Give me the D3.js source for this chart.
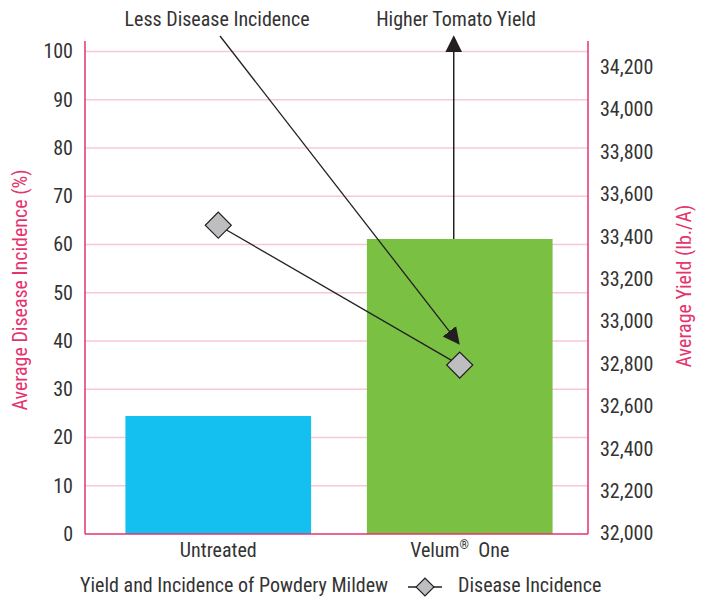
<!DOCTYPE html>
<html>
<head>
<meta charset="utf-8">
<script src="https://cdn.jsdelivr.net/npm/d3@7"></script>
<style>
  body { margin: 0; background: #fff; }
  svg text { font-family: "Liberation Sans Narrow", "Roboto Condensed", "Roboto", sans-serif; fill: #333; }
</style>
</head>
<body>
<svg id="chart" width="708" height="599"></svg>
<script>
// data
const categories = ["Untreated", "Velum One"];
const yieldValues = [32554, 33389];       // lb./A, right axis
const incidenceValues = [64, 35];         // %, left axis
const barColors = ["#13c0ef", "#7ac143"];
const leftTicks = [0, 10, 20, 30, 40, 50, 60, 70, 80, 90, 100];
const rightTicks = [32000, 32200, 32400, 32600, 32800, 33000, 33200, 33400, 33600, 33800, 34000, 34200];

const pink = "#e5336e";
const gridPink = "#f7c8d9";
const dark = "#231f20";

const plotL = 85, plotR = 588, plotT = 41, plotB = 534;

const svg = d3.select("#chart");

const x = d3.scaleBand().domain(categories).range([88, 590]).paddingInner(0.231).paddingOuter(0.155);
const yL = d3.scaleLinear().domain([0, 100]).range([plotB, 51.5]);
const yR = d3.scaleLinear().domain([32000, 34200]).range([533.5, 67]);

// gridlines
svg.append("g").selectAll("line")
    .data(leftTicks.filter(d => d > 0))
    .enter().append("line")
    .attr("x1", plotL).attr("x2", plotR)
    .attr("y1", d => yL(d)).attr("y2", d => yL(d))
    .attr("stroke", gridPink).attr("stroke-width", 1.5);

// bars
svg.append("g").selectAll("rect")
    .data(categories)
    .enter().append("rect")
    .attr("x", d => x(d))
    .attr("width", x.bandwidth())
    .attr("y", (d, i) => yR(yieldValues[i]))
    .attr("height", (d, i) => plotB - yR(yieldValues[i]))
    .attr("fill", (d, i) => barColors[i]);

// axis lines
svg.append("line").attr("x1", plotL).attr("x2", plotL).attr("y1", plotT).attr("y2", plotB)
    .attr("stroke", pink).attr("stroke-width", 1.5);
svg.append("line").attr("x1", plotR).attr("x2", plotR).attr("y1", plotT).attr("y2", plotB)
    .attr("stroke", pink).attr("stroke-width", 1.5);
svg.append("line").attr("x1", plotL).attr("x2", plotR).attr("y1", plotB).attr("y2", plotB)
    .attr("stroke", pink).attr("stroke-width", 1.5);

// left axis
const axL = svg.append("g").attr("transform", `translate(${plotL},0)`)
    .call(d3.axisLeft(yL).tickValues(leftTicks).tickSize(0).tickPadding(12));
axL.select(".domain").remove();
axL.selectAll("text").attr("font-size", 20).attr("fill", "#333").style("font-family", null);

// right axis
const axR = svg.append("g").attr("transform", `translate(${plotR},0)`)
    .call(d3.axisRight(yR).tickValues(rightTicks).tickSize(0).tickPadding(12).tickFormat(d3.format(",")));
axR.select(".domain").remove();
axR.selectAll("text").attr("font-size", 20).attr("fill", "#333").style("font-family", null);

// category labels
const catLabels = svg.append("g").selectAll("text")
    .data(categories)
    .enter().append("text")
    .attr("x", d => x(d) + x.bandwidth() / 2)
    .attr("y", 557)
    .attr("text-anchor", "middle")
    .attr("font-size", 20);
catLabels.each(function (d, i) {
    const t = d3.select(this);
    if (i === 1) {
        t.append("tspan").text("Velum");
        t.append("tspan").text("®").attr("font-size", 12).attr("dy", -8);
        t.append("tspan").text("\u00a0\u00a0One").attr("dy", 8);
    } else {
        t.text(d);
    }
});

// axis titles
svg.append("text")
    .attr("transform", "translate(27,290) rotate(-90)")
    .attr("text-anchor", "middle").attr("font-size", 20)
    .style("fill", pink)
    .text("Average Disease Incidence (%)");
svg.append("text")
    .attr("transform", "translate(691,286) rotate(-90)")
    .attr("text-anchor", "middle").attr("font-size", 20)
    .style("fill", pink)
    .text("Average Yield (lb./A)");

// arrowhead marker
const defs = svg.append("defs");
defs.append("marker")
    .attr("id", "arrow")
    .attr("viewBox", "0 0 10 10")
    .attr("refX", 9).attr("refY", 5)
    .attr("markerUnits", "userSpaceOnUse")
    .attr("markerWidth", 17).attr("markerHeight", 20)
    .attr("orient", "auto")
    .append("path").attr("d", "M0,0 L10,5 L0,10 Z").attr("fill", dark);

// annotation arrows
const cx2 = x(categories[1]) + x.bandwidth() / 2;
svg.append("line")
    .attr("x1", 220).attr("y1", 36)
    .attr("x2", cx2 - 1).attr("y2", yL(39.5))
    .attr("stroke", dark).attr("stroke-width", 1.3)
    .attr("marker-end", "url(#arrow)");
svg.append("line")
    .attr("x1", cx2 - 6).attr("y1", yR(yieldValues[1]))
    .attr("x2", cx2 - 6).attr("y2", 37)
    .attr("stroke", dark).attr("stroke-width", 1.5)
    .attr("marker-end", "url(#arrow)");

svg.append("text").attr("x", 217).attr("y", 26).attr("text-anchor", "middle")
    .attr("font-size", 20).text("Less Disease Incidence");
svg.append("text").attr("x", 456).attr("y", 26).attr("text-anchor", "middle")
    .attr("font-size", 20).text("Higher Tomato Yield");

// disease incidence line + diamonds
const line = d3.line()
    .x((d, i) => x(categories[i]) + x.bandwidth() / 2)
    .y(d => yL(d));
svg.append("path").datum(incidenceValues)
    .attr("d", line).attr("fill", "none")
    .attr("stroke", dark).attr("stroke-width", 1.3);

const diamond = d3.symbol().type(d3.symbolSquare).size(340);
svg.append("g").selectAll("path")
    .data(incidenceValues)
    .enter().append("path")
    .attr("d", diamond)
    .attr("transform", (d, i) => `translate(${x(categories[i]) + x.bandwidth() / 2},${yL(d)}) rotate(45)`)
    .attr("fill", "#bcbec0").attr("stroke", dark).attr("stroke-width", 1.2);

// legend
svg.append("text").attr("x", 80).attr("y", 592).attr("font-size", 20)
    .text("Yield and Incidence of Powdery Mildew");
svg.append("line").attr("x1", 408).attr("x2", 442).attr("y1", 587).attr("y2", 587)
    .attr("stroke", dark).attr("stroke-width", 1.3);
svg.append("path")
    .attr("d", d3.symbol().type(d3.symbolSquare).size(160))
    .attr("transform", "translate(425,587) rotate(45)")
    .attr("fill", "#bcbec0").attr("stroke", dark).attr("stroke-width", 1.2);
svg.append("text").attr("x", 458).attr("y", 592).attr("font-size", 20)
    .text("Disease Incidence");
</script>
</body>
</html>
